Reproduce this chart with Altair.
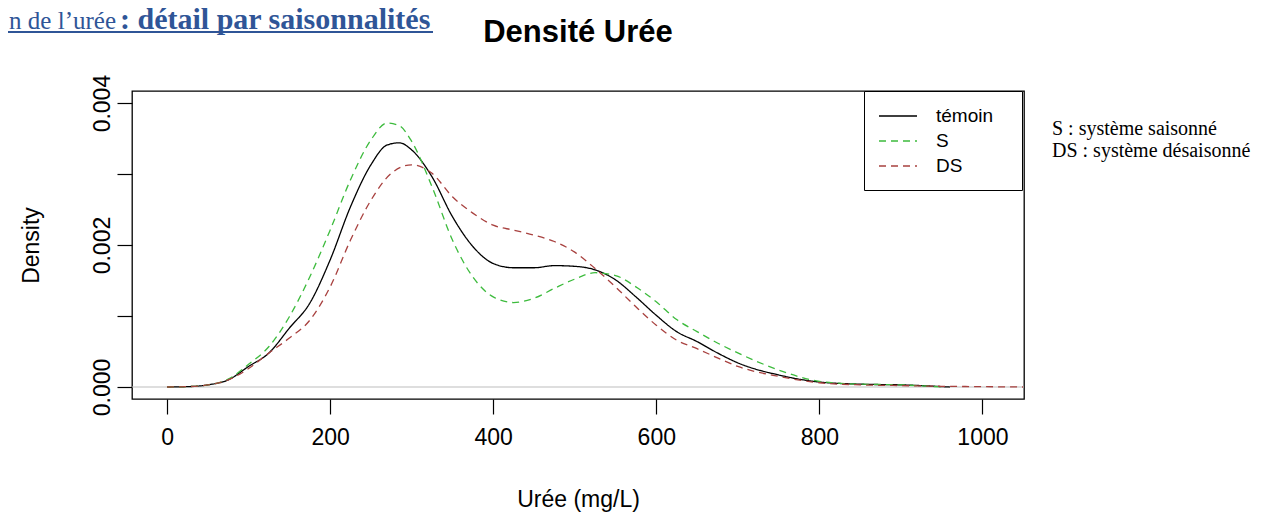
import altair as alt
import pandas as pd

# ---------------- data ----------------
series_names = ["témoin", "S", "DS"]
series_colors = ["#000000", "#3DBB3D", "#A8413F"]

temoin_x = [0, 25, 50, 75, 100, 125, 150, 175, 200, 225, 250, 270, 285, 300, 325, 350,
            375, 400, 425, 450, 475, 500, 525, 550, 575, 600, 625, 650, 675, 700, 750,
            800, 850, 900, 960]
temoin_y = [0.0, 0.000005, 0.00003, 0.0001, 0.00029, 0.00048, 0.00083, 0.00118, 0.00179,
            0.00254, 0.00313, 0.00341, 0.00344, 0.00334, 0.00296, 0.0024, 0.00198, 0.00174,
            0.00168, 0.00168, 0.00171, 0.0017, 0.00165, 0.00151, 0.00127, 0.00101, 0.00078,
            0.00064, 0.00048, 0.00034, 0.00017, 0.00007, 0.00004, 0.00003, 0.0]

s_x = [0, 25, 50, 75, 100, 125, 150, 175, 200, 225, 250, 270, 285, 300, 325, 350, 375,
       400, 425, 450, 475, 500, 525, 550, 575, 600, 625, 650, 675, 700, 750, 800, 850,
       900, 950]
s_y = [0.0, 0.000005, 0.00003, 0.00011, 0.00032, 0.00057, 0.00099, 0.00155, 0.00221,
       0.00292, 0.00348, 0.00372, 0.00368, 0.00346, 0.00282, 0.00207, 0.00155, 0.00127,
       0.00119, 0.00125, 0.00139, 0.00152, 0.00161, 0.00157, 0.00141, 0.0012, 0.00095,
       0.00078, 0.00062, 0.00048, 0.00024, 0.00008, 0.00004, 0.00003, 0.0]

ds_x = [0, 25, 50, 75, 100, 125, 150, 175, 200, 225, 250, 275, 300, 325, 350, 375, 400,
        425, 450, 475, 500, 525, 550, 575, 600, 625, 650, 675, 700, 750, 800, 850, 900,
        950, 1000, 1050]
ds_y = [0.0, 0.000005, 0.00003, 0.0001, 0.00026, 0.00048, 0.00069, 0.00094, 0.00141,
        0.00207, 0.00263, 0.00301, 0.00313, 0.00301, 0.00268, 0.00245, 0.00228, 0.00221,
        0.00214, 0.00205, 0.0019, 0.00167, 0.00141, 0.00113, 0.00087, 0.00066, 0.00054,
        0.00041, 0.00029, 0.00015, 0.00006, 0.00003, 0.00002, 0.00001, 0.000005, 0.0]

x_ticks = [0, 200, 400, 600, 800, 1000]
y_ticks = [0.0, 0.001, 0.002, 0.003, 0.004]

chart_title = "Densité Urée"
x_title = "Urée (mg/L)"
y_title = "Density"
heading_regular = "n de l’urée"
heading_bold = ": détail par saisonnalités"
note_s = "S : système saisonné"
note_ds = "DS : système désaisonné"

# ---------------- build table ----------------
rows = []
for name, xs, ys in zip(series_names, [temoin_x, s_x, ds_x], [temoin_y, s_y, ds_y]):
    for xv, yv in zip(xs, ys):
        rows.append({"serie": name, "uree": xv, "density": yv})
df = pd.DataFrame(rows)

SANS = "Liberation Sans"
SERIF = "Liberation Serif"
BLUE = "#2F5597"

xscale = alt.Scale(domain=[-43, 1051], nice=False, zero=False)
yscale = alt.Scale(domain=[-0.000169, 0.00417], nice=False, zero=False)

legend = alt.Legend(
    title=None, orient="none", legendX=732, legendY=0,
    strokeColor="black", fillColor="white", padding=14,
    symbolType="M-1,0H2.8", symbolSize=400, symbolStrokeWidth=1.4,
    labelFont=SANS, labelFontSize=19, labelColor="black",
    labelOffset=36, rowPadding=4,
    labelExpr="datum.label + '\u2800'",
)

zero_rule = alt.Chart(pd.DataFrame({"z": [0]})).mark_rule(
    color="#BEBEBE", strokeWidth=1.2
).encode(y=alt.datum(0))

lines = alt.Chart(df).mark_line(strokeWidth=1.3, clip=True, interpolate="monotone").encode(
    x=alt.X("uree:Q", scale=xscale,
            axis=alt.Axis(values=x_ticks, title=x_title, format="d",
                          tickSize=15, labelPadding=12, titlePadding=39)),
    y=alt.Y("density:Q", scale=yscale,
            axis=alt.Axis(values=y_ticks, title=y_title, format=".3f",
                          labelExpr="abs(datum.value*1000 - round(datum.value*500)*2) < 0.01 ? datum.label : ''",
                          tickSize=15, labelAngle=270, labelAlign="center",
                          labelBaseline="alphabetic", labelPadding=8,
                          titlePadding=48)),
    color=alt.Color("serie:N", scale=alt.Scale(domain=series_names, range=series_colors),
                    legend=legend),
    strokeDash=alt.StrokeDash("serie:N",
                              scale=alt.Scale(domain=series_names,
                                              range=[[1, 0], [7, 5], [7, 5]]),
                              legend=legend),
)


def label(text, x, y, font, size, color="black", weight="normal", align="left"):
    return alt.Chart(pd.DataFrame({"t": [text]})).mark_text(
        font=font, fontSize=size, fontWeight=weight, color=color, align=align,
        baseline="alphabetic"
    ).encode(x=alt.value(x), y=alt.value(y), text="t:N")


title_mark = label(chart_title, 446, -49, SANS, 31, weight="bold", align="center")
heading_left = label(heading_regular, -16, -62, SERIF, 25, color=BLUE, align="right")
heading_right = label(heading_bold, -12, -62, SERIF, 30, color=BLUE, weight="bold")
note1 = label(note_s, 920, 44, SERIF, 20)
note2 = label(note_ds, 920, 66, SERIF, 20)

underline = alt.Chart(pd.DataFrame({"u": [0]})).mark_rule(
    color=BLUE, strokeWidth=2
).encode(x=alt.value(-140), x2=alt.value(301), y=alt.value(-59))

chart = alt.layer(
    zero_rule, lines, title_mark, heading_left, heading_right, underline, note1, note2
).properties(
    width=892, height=308,
    autosize="none",
    padding={"left": 124, "top": 83, "right": 249, "bottom": 122},
).configure_view(stroke="black", strokeWidth=1.3).configure_axis(
    domain=False, grid=False, tickColor="black", tickWidth=1.2,
    labelFont=SANS, labelFontSize=23, labelColor="black",
    titleFont=SANS, titleFontSize=23, titleFontWeight="normal", titleColor="black",
)

chart.save("out.html", embed_options={"renderer": "svg", "actions": False})
